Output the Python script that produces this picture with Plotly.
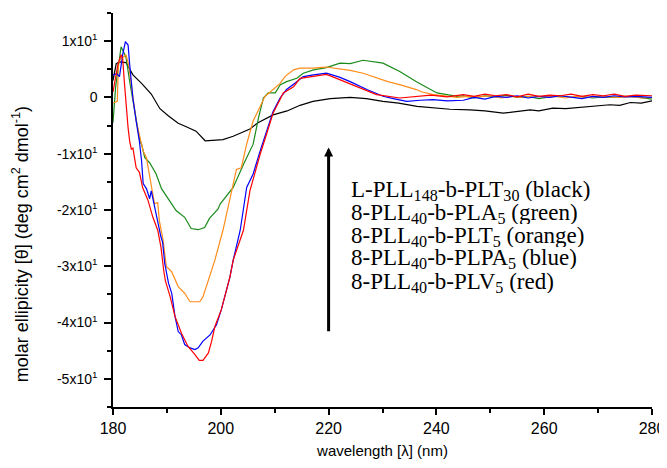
import plotly.graph_objects as go

# CD spectra (wavelength nm, molar ellipticity)
wl_black = [180, 180.6, 181.2, 182.4, 183.7, 185.3, 187.1, 188.7, 190.3, 192.1, 193.8, 195.4, 197.1,
            199.5, 200.4, 202.3, 205.4, 206.9, 209.7, 212.3, 214.7, 217.1, 220.3, 224, 227, 230.1,
            233, 236.4, 239, 242.5, 246.2, 249, 252.4, 255, 257.4, 259, 261.6, 264, 266.6, 269,
            272.2, 274, 276, 278, 280]
y_black = [3.0, 6.0, 6.3, 6.2, 4.0, 2.5, 0.6, -2.0, -3.3, -4.6, -5.3, -6.0, -7.7,
           -7.6, -7.5, -6.9, -5.6, -4.5, -3.1, -2.4, -1.4, -0.7, -0.2, 0.0, -0.2, -0.7,
           -1.0, -1.6, -1.8, -2.1, -2.2, -2.4, -2.8, -2.5, -2.2, -2.4, -1.9, -2.0, -1.8, -1.6,
           -1.3, -1.4, -0.9, -1.0, -0.6]

wl_green = [180, 180.5, 181.5, 182.4, 183.1, 183.7, 184.3, 185.0, 185.3, 185.9, 186.8, 188.0, 189.0,
            190.5, 191.7, 193.3, 194.5, 195.8, 197.0, 197.9, 199.5, 199.9, 202.3, 204.2, 206.0,
            207.0, 207.9, 208.8, 210.1, 211.0, 212.2, 214.1, 215.3, 217.2, 219.6, 222.1, 224,
            226.4, 228, 230.1, 233.2, 236.3, 240.1, 243.8, 245, 247, 249, 251, 253, 255, 257, 259,
            261, 263, 265, 267, 269, 271, 273, 275, 277, 279, 280]
y_green = [-4.5, 2.0, 9.0, 7.2, 2.8, -0.7, -4.2, -7.8, -8.3, -10.7, -11.6, -13.6, -16.2,
           -18.3, -20.1, -21.3, -23.3, -23.5, -23.1, -21.5, -19.8, -18.9, -16.0, -11.9, -8.3,
           -3.6, -0.1, 0.8, 0.8, 2.2, 2.8, 3.4, 4.3, 4.9, 5.3, 6.1, 6.0,
           6.6, 6.4, 6.1, 4.6, 2.8, 0.8, 0.2, 0.3, -0.1, 0.3, 0.1, 0.4, 0.0, 0.2, -0.2,
           0.1, 0.3, 0.0, 0.2, -0.1, 0.1, 0.0, 0.2, 0.1, -0.2, -0.3]

wl_orange = [180, 180.8, 181.0, 181.5, 182.0, 182.4, 182.9, 183.7, 184.3, 185.3, 185.6, 186.2, 186.8,
             187.4, 187.7, 188.3, 188.6, 189.3, 189.9, 190.2, 190.9, 192.1, 193.3, 194.3, 196.1,
             196.7, 197.7, 198.9, 200.4, 201.7, 202.9, 203.8, 204.8, 206.0, 207.3, 208.2, 209.7,
             211.0, 211.9, 213.5, 214.7, 217.1, 219.5, 222.1, 224, 226.4, 228.5, 231.0, 233.5,
             236.3, 237.2, 239.4, 241.5, 243.8, 246, 248, 250, 252, 254, 256, 258, 260, 262, 264,
             266, 268, 270, 272, 274, 276, 278, 280]
y_orange = [-1.0, -0.7, 6.0, 7.0, 7.2, 7.6, 5.8, -0.2, -4.2, -8.3, -9.5, -10.7, -14.2,
            -17.1, -18.9, -18.7, -21.9, -25.4, -30.1, -30.3, -31.0, -33.6, -34.8, -36.3, -36.3,
            -35.4, -32.5, -28.9, -23.6, -17.8, -12.8, -12.5, -8.3, -4.2, -1.6, 0.2, 1.4,
            2.5, 3.7, 4.9, 5.2, 5.2, 5.4, 5.1, 4.8, 4.3, 3.6, 2.8, 2.2,
            1.4, 1.0, 0.5, 0.3, 0.0, 0.2, 0.1, 0.3, -0.1, 0.2, 0.0, 0.3, 0.1, 0.2, -0.1,
            0.2, 0.0, 0.2, 0.1, 0.0, 0.2, -0.1, 0.0]

wl_blue = [180, 180.7, 181.2, 181.8, 182.3, 182.8, 183.1, 183.7, 184.3, 184.9, 185.3, 185.6, 186.2,
           186.8, 187.1, 187.7, 188.3, 188.9, 189.2, 189.6, 190.3, 190.9, 191.5, 192.1, 192.7,
           193.3, 194.3, 195.2, 195.8, 196.7, 198.0, 199.2, 200.1, 201.7, 202.3, 203.6, 204.8,
           206.0, 207.3, 208.5, 209.7, 211.0, 212.2, 214.1, 215.3, 217.2, 219.6, 222, 224.0,
           227.1, 230.1, 232, 234.5, 237, 239.4, 242, 245, 247, 249, 251, 253, 255, 257, 259, 261,
           263, 265, 267, 269, 271, 273, 275, 277, 280]
y_blue = [4.0, 4.2, 3.7, 7.6, 9.9, 9.3, 5.8, -0.2, -4.2, -7.8, -11.3, -15.3, -16.2,
          -18.0, -16.6, -19.5, -22.4, -24.8, -25.7, -29.5, -33.0, -34.8, -38.9, -41.6, -42.2,
          -43.9, -44.5, -44.8, -44.5, -43.3, -42.2, -40.4, -37.7, -31.9, -28.9, -23.6, -16.0,
          -13.6, -9.5, -6.0, -2.5, -0.1, 1.4, 2.8, 3.7, 4.0, 4.3, 3.6, 2.8,
          1.4, 0.2, -0.2, -0.7, -0.5, -0.4, -0.6, -0.5, 0.0, -0.3, 0.2, 0.0, 0.3, -0.1, 0.2, 0.0,
          0.3, 0.1, -0.2, 0.2, 0.0, 0.3, 0.1, 0.2, 0.0]

wl_red = [180, 180.9, 181.5, 181.8, 182.1, 182.4, 182.8, 183.1, 183.4, 183.7, 184.1, 184.3, 184.9,
          185.5, 186.5, 187.4, 188.3, 188.9, 189.4, 189.7, 190.6, 191.5, 192.7, 193.9, 195.2,
          196.0, 196.7, 197.7, 198.3, 198.9, 200.1, 201.7, 202.3, 204.2, 205.4, 207.3, 208.5,
          209.7, 211.6, 213.5, 214.7, 217.1, 219.6, 220.9, 223, 225.2, 228.9, 233.2, 236, 239,
          242, 245, 247, 249, 251, 253, 255, 257, 259, 261, 263, 265, 267, 269, 271, 273, 275,
          277, 280]
y_red = [1.0, 5.8, 7.6, 6.9, 2.8, -1.2, -5.4, -7.8, -9.2, -9.0, -11.3, -12.5, -13.3,
         -16.0, -18.3, -21.3, -23.6, -26.6, -30.7, -32.5, -35.4, -38.9, -41.9, -44.2, -45.7,
         -46.7, -46.7, -45.4, -43.3, -40.7, -37.7, -31.9, -28.9, -23.6, -16.6, -10.1, -6.5,
         -2.8, 0.8, 1.9, 3.4, 3.8, 4.1, 3.6, 2.8, 1.9, 0.5, -0.1, 0.2, 0.4,
         0.1, 0.5, 0.2, 0.6, 0.3, 0.5, 0.1, 0.6, 0.2, 0.4, 0.3, 0.6, 0.2, 0.5, 0.3, 0.6, 0.2,
         0.4, 0.3]

series = [
    (wl_black, y_black, "black"),
    (wl_green, y_green, "#1a8a1a"),
    (wl_orange, y_orange, "#ff8c1a"),
    (wl_blue, y_blue, "#0000ff"),
    (wl_red, y_red, "#ff0000"),
]

labels = [
    "L-PLL<sub>148</sub>-b-PLT<sub>30</sub> (black)",
    "8-PLL<sub>40</sub>-b-PLA<sub>5</sub> (green)",
    "8-PLL<sub>40</sub>-b-PLT<sub>5</sub> (orange)",
    "8-PLL<sub>40</sub>-b-PLPA<sub>5</sub> (blue)",
    "8-PLL<sub>40</sub>-b-PLV<sub>5</sub> (red)",
]
label_y = [-16.6, -20.6, -24.7, -28.7, -32.8]

yticks = [10, 0, -10, -20, -30, -40, -50]
yticktext = ["1x10<sup>1</sup>", "0", "-1x10<sup>1</sup>", "-2x10<sup>1</sup>",
             "-3x10<sup>1</sup>", "-4x10<sup>1</sup>", "-5x10<sup>1</sup>"]

fig = go.Figure()
for wl, y, c in series:
    fig.add_trace(go.Scatter(x=wl, y=y, mode="lines", line=dict(color=c, width=1.2),
                             showlegend=False))

fig.add_annotation(x=220, y=-8.9, ax=220, ay=-41.8, xref="x", yref="y", axref="x", ayref="y",
                   showarrow=True, arrowhead=2, arrowsize=0.6, arrowwidth=3, arrowcolor="black",
                   text="")

for t, yy in zip(labels, label_y):
    fig.add_annotation(x=223.8, y=yy, xref="x", yref="y", text=t, showarrow=False,
                       xanchor="left", yanchor="middle", height=21, valign="middle",
                       font=dict(family="Liberation Serif, Times New Roman, serif", size=23,
                                 color="black"))

# y-axis title, placed as in the reference (a bit below the plot centre)
fig.add_annotation(x=-0.170, y=0.414, xref="paper", yref="paper", textangle=-90,
                   text="molar ellipicity [θ] (deg cm<sup>2</sup> dmol<sup>-1</sup>)",
                   showarrow=False, xanchor="center", yanchor="middle",
                   font=dict(family="Liberation Sans, Arial, sans-serif", size=18, color="black"))

axis_font = dict(family="Liberation Sans, Arial, sans-serif", size=14, color="black")

# page body keeps its 8px margin, so the figure is sized to sit in the 667x468 window
fig.update_layout(
    width=659, height=452,
    margin=dict(l=105, r=15, t=5, b=53),
    paper_bgcolor="white", plot_bgcolor="white",
    font=axis_font,
)
fig.update_xaxes(
    range=[180, 280], tickmode="array", tickvals=[180, 200, 220, 240, 260, 280],
    showline=True, linecolor="black", linewidth=1.5, ticks="outside", ticklen=6,
    tickwidth=1.5, tickcolor="black", showgrid=False, zeroline=False, automargin=False,
    minor=dict(ticks="outside", tickvals=[190, 210, 230, 250, 270], ticklen=4,
               tickcolor="black", tickwidth=1.5, showgrid=False),
    title=dict(text="wavelength [λ] (nm)",
               font=dict(family="Liberation Sans, Arial, sans-serif", size=15, color="black"),
               standoff=10),
    tickfont=dict(family="Liberation Sans, Arial, sans-serif", size=16, color="black"),
)
fig.update_yaxes(
    range=[-55, 15], tickmode="array", tickvals=yticks, ticktext=yticktext,
    showline=True, linecolor="black", linewidth=1.5, ticks="outside", ticklen=7,
    tickwidth=1.5, tickcolor="black", showgrid=False, zeroline=False, automargin=False,
    minor=dict(ticks="outside", tickvals=[15, 5, -5, -15, -25, -35, -45, -55], ticklen=4,
               tickcolor="black", tickwidth=1.5, showgrid=False),
    tickfont=axis_font, ticklabelstandoff=4,
)

fig.write_html("out.html")
